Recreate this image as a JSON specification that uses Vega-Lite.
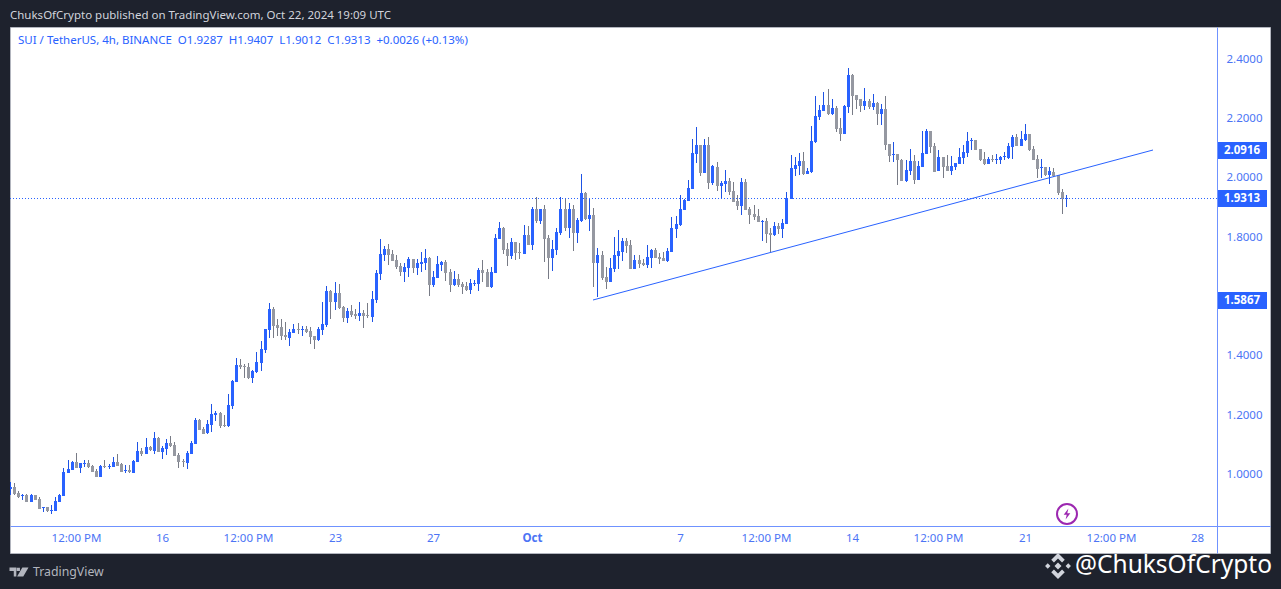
{
  "$schema": "https://vega.github.io/schema/vega-lite/v6.json",
  "width": 1260,
  "height": 526,
  "autosize": "none",
  "padding": {"left": 10, "top": 27, "right": 11, "bottom": 36},
  "background": "#1e222d",
  "view": {"fill": "#ffffff", "stroke": "#b2b5be"},
  "config": {"font": "Noto Sans"},
  "title": {"text": "ChuksOfCrypto published on TradingView.com, Oct 22, 2024 19:09 UTC", "anchor": "start", "frame": "group", "fontSize": 11.5, "fontWeight": "normal", "color": "#d1d4dc", "offset": 6},
  "datasets": {
    "candles": [
{"t":"2024-09-09T20:00Z","o":0.951,"h":0.973,"l":0.930,"c":0.955},
{"t":"2024-09-10T00:00Z","o":0.955,"h":0.969,"l":0.930,"c":0.933},
{"t":"2024-09-10T04:00Z","o":0.935,"h":0.942,"l":0.920,"c":0.924},
{"t":"2024-09-10T08:00Z","o":0.925,"h":0.933,"l":0.913,"c":0.930},
{"t":"2024-09-10T12:00Z","o":0.930,"h":0.932,"l":0.906,"c":0.907},
{"t":"2024-09-10T16:00Z","o":0.907,"h":0.932,"l":0.906,"c":0.930},
{"t":"2024-09-10T20:00Z","o":0.929,"h":0.930,"l":0.912,"c":0.913},
{"t":"2024-09-11T00:00Z","o":0.916,"h":0.923,"l":0.882,"c":0.884},
{"t":"2024-09-11T04:00Z","o":0.886,"h":0.888,"l":0.873,"c":0.888},
{"t":"2024-09-11T08:00Z","o":0.888,"h":0.889,"l":0.873,"c":0.877},
{"t":"2024-09-11T12:00Z","o":0.876,"h":0.895,"l":0.866,"c":0.878},
{"t":"2024-09-11T16:00Z","o":0.877,"h":0.922,"l":0.876,"c":0.909},
{"t":"2024-09-11T20:00Z","o":0.907,"h":0.932,"l":0.906,"c":0.930},
{"t":"2024-09-12T00:00Z","o":0.927,"h":1.020,"l":0.926,"c":1.007},
{"t":"2024-09-12T04:00Z","o":1.005,"h":1.048,"l":1.004,"c":1.017},
{"t":"2024-09-12T08:00Z","o":1.015,"h":1.044,"l":1.014,"c":1.041},
{"t":"2024-09-12T12:00Z","o":1.041,"h":1.070,"l":1.020,"c":1.021},
{"t":"2024-09-12T16:00Z","o":1.022,"h":1.039,"l":1.005,"c":1.038},
{"t":"2024-09-12T20:00Z","o":1.034,"h":1.048,"l":1.023,"c":1.036},
{"t":"2024-09-13T00:00Z","o":1.036,"h":1.048,"l":1.022,"c":1.024},
{"t":"2024-09-13T04:00Z","o":1.027,"h":1.030,"l":1.007,"c":1.008},
{"t":"2024-09-13T08:00Z","o":1.011,"h":1.016,"l":0.990,"c":0.991},
{"t":"2024-09-13T12:00Z","o":0.991,"h":1.031,"l":0.990,"c":1.027},
{"t":"2024-09-13T16:00Z","o":1.027,"h":1.048,"l":1.020,"c":1.025},
{"t":"2024-09-13T20:00Z","o":1.025,"h":1.034,"l":1.018,"c":1.027},
{"t":"2024-09-14T00:00Z","o":1.024,"h":1.057,"l":1.023,"c":1.041},
{"t":"2024-09-14T04:00Z","o":1.041,"h":1.068,"l":1.027,"c":1.027},
{"t":"2024-09-14T08:00Z","o":1.034,"h":1.036,"l":1.007,"c":1.008},
{"t":"2024-09-14T12:00Z","o":1.011,"h":1.031,"l":1.005,"c":1.014},
{"t":"2024-09-14T16:00Z","o":1.014,"h":1.030,"l":1.005,"c":1.007},
{"t":"2024-09-14T20:00Z","o":1.005,"h":1.048,"l":1.004,"c":1.044},
{"t":"2024-09-15T00:00Z","o":1.042,"h":1.108,"l":1.041,"c":1.078},
{"t":"2024-09-15T04:00Z","o":1.078,"h":1.089,"l":1.061,"c":1.068},
{"t":"2024-09-15T08:00Z","o":1.069,"h":1.122,"l":1.068,"c":1.090},
{"t":"2024-09-15T12:00Z","o":1.092,"h":1.096,"l":1.078,"c":1.081},
{"t":"2024-09-15T16:00Z","o":1.079,"h":1.142,"l":1.068,"c":1.122},
{"t":"2024-09-15T20:00Z","o":1.122,"h":1.124,"l":1.075,"c":1.076},
{"t":"2024-09-16T00:00Z","o":1.076,"h":1.095,"l":1.052,"c":1.088},
{"t":"2024-09-16T04:00Z","o":1.085,"h":1.117,"l":1.065,"c":1.105},
{"t":"2024-09-16T08:00Z","o":1.105,"h":1.129,"l":1.093,"c":1.095},
{"t":"2024-09-16T12:00Z","o":1.098,"h":1.109,"l":1.061,"c":1.062},
{"t":"2024-09-16T16:00Z","o":1.066,"h":1.070,"l":1.022,"c":1.041},
{"t":"2024-09-16T20:00Z","o":1.044,"h":1.050,"l":1.023,"c":1.040},
{"t":"2024-09-17T00:00Z","o":1.039,"h":1.078,"l":1.017,"c":1.071},
{"t":"2024-09-17T04:00Z","o":1.068,"h":1.111,"l":1.067,"c":1.105},
{"t":"2024-09-17T08:00Z","o":1.103,"h":1.190,"l":1.102,"c":1.184},
{"t":"2024-09-17T12:00Z","o":1.184,"h":1.186,"l":1.148,"c":1.149},
{"t":"2024-09-17T16:00Z","o":1.151,"h":1.160,"l":1.134,"c":1.135},
{"t":"2024-09-17T20:00Z","o":1.137,"h":1.182,"l":1.135,"c":1.169},
{"t":"2024-09-18T00:00Z","o":1.167,"h":1.236,"l":1.142,"c":1.203},
{"t":"2024-09-18T04:00Z","o":1.200,"h":1.213,"l":1.180,"c":1.207},
{"t":"2024-09-18T08:00Z","o":1.207,"h":1.209,"l":1.157,"c":1.163},
{"t":"2024-09-18T12:00Z","o":1.164,"h":1.200,"l":1.160,"c":1.162},
{"t":"2024-09-18T16:00Z","o":1.162,"h":1.270,"l":1.160,"c":1.233},
{"t":"2024-09-18T20:00Z","o":1.231,"h":1.317,"l":1.221,"c":1.314},
{"t":"2024-09-19T00:00Z","o":1.310,"h":1.391,"l":1.309,"c":1.368},
{"t":"2024-09-19T04:00Z","o":1.368,"h":1.388,"l":1.354,"c":1.361},
{"t":"2024-09-19T08:00Z","o":1.366,"h":1.372,"l":1.324,"c":1.361},
{"t":"2024-09-19T12:00Z","o":1.361,"h":1.375,"l":1.321,"c":1.324},
{"t":"2024-09-19T16:00Z","o":1.324,"h":1.351,"l":1.307,"c":1.348},
{"t":"2024-09-19T20:00Z","o":1.344,"h":1.412,"l":1.341,"c":1.378},
{"t":"2024-09-20T00:00Z","o":1.375,"h":1.449,"l":1.348,"c":1.422},
{"t":"2024-09-20T04:00Z","o":1.418,"h":1.489,"l":1.408,"c":1.489},
{"t":"2024-09-20T08:00Z","o":1.486,"h":1.577,"l":1.459,"c":1.557},
{"t":"2024-09-20T12:00Z","o":1.557,"h":1.563,"l":1.459,"c":1.499},
{"t":"2024-09-20T16:00Z","o":1.503,"h":1.523,"l":1.466,"c":1.493},
{"t":"2024-09-20T20:00Z","o":1.496,"h":1.523,"l":1.452,"c":1.466},
{"t":"2024-09-21T00:00Z","o":1.469,"h":1.513,"l":1.452,"c":1.462},
{"t":"2024-09-21T04:00Z","o":1.459,"h":1.489,"l":1.432,"c":1.479},
{"t":"2024-09-21T08:00Z","o":1.476,"h":1.506,"l":1.476,"c":1.489},
{"t":"2024-09-21T12:00Z","o":1.489,"h":1.509,"l":1.472,"c":1.487},
{"t":"2024-09-21T16:00Z","o":1.487,"h":1.499,"l":1.466,"c":1.489},
{"t":"2024-09-21T20:00Z","o":1.489,"h":1.499,"l":1.476,"c":1.479},
{"t":"2024-09-22T00:00Z","o":1.482,"h":1.496,"l":1.439,"c":1.462},
{"t":"2024-09-22T04:00Z","o":1.466,"h":1.466,"l":1.422,"c":1.452},
{"t":"2024-09-22T08:00Z","o":1.452,"h":1.496,"l":1.449,"c":1.489},
{"t":"2024-09-22T12:00Z","o":1.486,"h":1.580,"l":1.469,"c":1.506},
{"t":"2024-09-22T16:00Z","o":1.503,"h":1.634,"l":1.496,"c":1.617},
{"t":"2024-09-22T20:00Z","o":1.617,"h":1.621,"l":1.523,"c":1.580},
{"t":"2024-09-23T00:00Z","o":1.580,"h":1.648,"l":1.553,"c":1.611},
{"t":"2024-09-23T04:00Z","o":1.611,"h":1.641,"l":1.557,"c":1.560},
{"t":"2024-09-23T08:00Z","o":1.563,"h":1.567,"l":1.513,"c":1.526},
{"t":"2024-09-23T12:00Z","o":1.526,"h":1.560,"l":1.509,"c":1.550},
{"t":"2024-09-23T16:00Z","o":1.550,"h":1.570,"l":1.530,"c":1.536},
{"t":"2024-09-23T20:00Z","o":1.540,"h":1.557,"l":1.523,"c":1.533},
{"t":"2024-09-24T00:00Z","o":1.533,"h":1.580,"l":1.516,"c":1.543},
{"t":"2024-09-24T04:00Z","o":1.543,"h":1.553,"l":1.493,"c":1.533},
{"t":"2024-09-24T08:00Z","o":1.536,"h":1.577,"l":1.526,"c":1.533},
{"t":"2024-09-24T12:00Z","o":1.530,"h":1.617,"l":1.513,"c":1.590},
{"t":"2024-09-24T16:00Z","o":1.587,"h":1.688,"l":1.577,"c":1.678},
{"t":"2024-09-24T20:00Z","o":1.675,"h":1.793,"l":1.654,"c":1.742},
{"t":"2024-09-25T00:00Z","o":1.739,"h":1.769,"l":1.718,"c":1.759},
{"t":"2024-09-25T04:00Z","o":1.759,"h":1.776,"l":1.705,"c":1.739},
{"t":"2024-09-25T08:00Z","o":1.742,"h":1.756,"l":1.718,"c":1.718},
{"t":"2024-09-25T12:00Z","o":1.722,"h":1.739,"l":1.691,"c":1.698},
{"t":"2024-09-25T16:00Z","o":1.702,"h":1.712,"l":1.668,"c":1.681},
{"t":"2024-09-25T20:00Z","o":1.681,"h":1.712,"l":1.648,"c":1.698},
{"t":"2024-09-26T00:00Z","o":1.695,"h":1.732,"l":1.665,"c":1.725},
{"t":"2024-09-26T04:00Z","o":1.725,"h":1.725,"l":1.678,"c":1.695},
{"t":"2024-09-26T08:00Z","o":1.695,"h":1.725,"l":1.671,"c":1.712},
{"t":"2024-09-26T12:00Z","o":1.708,"h":1.749,"l":1.681,"c":1.715},
{"t":"2024-09-26T16:00Z","o":1.712,"h":1.759,"l":1.688,"c":1.729},
{"t":"2024-09-26T20:00Z","o":1.729,"h":1.732,"l":1.600,"c":1.638},
{"t":"2024-09-27T00:00Z","o":1.638,"h":1.685,"l":1.631,"c":1.665},
{"t":"2024-09-27T04:00Z","o":1.661,"h":1.735,"l":1.661,"c":1.708},
{"t":"2024-09-27T08:00Z","o":1.705,"h":1.718,"l":1.685,"c":1.715},
{"t":"2024-09-27T12:00Z","o":1.715,"h":1.722,"l":1.651,"c":1.678},
{"t":"2024-09-27T16:00Z","o":1.681,"h":1.691,"l":1.614,"c":1.638},
{"t":"2024-09-27T20:00Z","o":1.638,"h":1.685,"l":1.634,"c":1.658},
{"t":"2024-09-28T00:00Z","o":1.658,"h":1.675,"l":1.631,"c":1.638},
{"t":"2024-09-28T04:00Z","o":1.641,"h":1.648,"l":1.607,"c":1.632},
{"t":"2024-09-28T08:00Z","o":1.634,"h":1.648,"l":1.617,"c":1.621},
{"t":"2024-09-28T12:00Z","o":1.621,"h":1.658,"l":1.607,"c":1.644},
{"t":"2024-09-28T16:00Z","o":1.641,"h":1.654,"l":1.634,"c":1.644},
{"t":"2024-09-28T20:00Z","o":1.641,"h":1.695,"l":1.617,"c":1.688},
{"t":"2024-09-29T00:00Z","o":1.688,"h":1.722,"l":1.648,"c":1.678},
{"t":"2024-09-29T04:00Z","o":1.681,"h":1.691,"l":1.631,"c":1.631},
{"t":"2024-09-29T08:00Z","o":1.631,"h":1.698,"l":1.627,"c":1.681},
{"t":"2024-09-29T12:00Z","o":1.678,"h":1.809,"l":1.678,"c":1.796},
{"t":"2024-09-29T16:00Z","o":1.793,"h":1.850,"l":1.793,"c":1.830},
{"t":"2024-09-29T20:00Z","o":1.830,"h":1.833,"l":1.742,"c":1.756},
{"t":"2024-09-30T00:00Z","o":1.759,"h":1.779,"l":1.702,"c":1.735},
{"t":"2024-09-30T04:00Z","o":1.735,"h":1.796,"l":1.725,"c":1.783},
{"t":"2024-09-30T08:00Z","o":1.783,"h":1.783,"l":1.722,"c":1.745},
{"t":"2024-09-30T12:00Z","o":1.749,"h":1.779,"l":1.725,"c":1.745},
{"t":"2024-09-30T16:00Z","o":1.742,"h":1.840,"l":1.742,"c":1.806},
{"t":"2024-09-30T20:00Z","o":1.806,"h":1.836,"l":1.772,"c":1.772},
{"t":"2024-10-01T00:00Z","o":1.772,"h":1.901,"l":1.756,"c":1.894},
{"t":"2024-10-01T04:00Z","o":1.894,"h":1.934,"l":1.847,"c":1.853},
{"t":"2024-10-01T08:00Z","o":1.853,"h":1.894,"l":1.843,"c":1.894},
{"t":"2024-10-01T12:00Z","o":1.894,"h":1.907,"l":1.715,"c":1.793},
{"t":"2024-10-01T16:00Z","o":1.796,"h":1.806,"l":1.658,"c":1.729},
{"t":"2024-10-01T20:00Z","o":1.729,"h":1.789,"l":1.685,"c":1.759},
{"t":"2024-10-02T00:00Z","o":1.756,"h":1.830,"l":1.739,"c":1.816},
{"t":"2024-10-02T04:00Z","o":1.813,"h":1.934,"l":1.806,"c":1.894},
{"t":"2024-10-02T08:00Z","o":1.894,"h":1.931,"l":1.820,"c":1.830},
{"t":"2024-10-02T12:00Z","o":1.830,"h":1.914,"l":1.796,"c":1.894},
{"t":"2024-10-02T16:00Z","o":1.894,"h":1.907,"l":1.752,"c":1.813},
{"t":"2024-10-02T20:00Z","o":1.813,"h":1.863,"l":1.779,"c":1.857},
{"t":"2024-10-03T00:00Z","o":1.853,"h":2.012,"l":1.850,"c":1.948},
{"t":"2024-10-03T04:00Z","o":1.948,"h":1.951,"l":1.857,"c":1.860},
{"t":"2024-10-03T08:00Z","o":1.860,"h":1.931,"l":1.820,"c":1.874},
{"t":"2024-10-03T12:00Z","o":1.874,"h":1.897,"l":1.631,"c":1.712},
{"t":"2024-10-03T16:00Z","o":1.712,"h":1.762,"l":1.597,"c":1.739},
{"t":"2024-10-03T20:00Z","o":1.739,"h":1.752,"l":1.654,"c":1.661},
{"t":"2024-10-04T00:00Z","o":1.665,"h":1.698,"l":1.624,"c":1.648},
{"t":"2024-10-04T04:00Z","o":1.648,"h":1.729,"l":1.648,"c":1.695},
{"t":"2024-10-04T08:00Z","o":1.691,"h":1.799,"l":1.681,"c":1.739},
{"t":"2024-10-04T12:00Z","o":1.735,"h":1.823,"l":1.691,"c":1.752},
{"t":"2024-10-04T16:00Z","o":1.749,"h":1.796,"l":1.718,"c":1.786},
{"t":"2024-10-04T20:00Z","o":1.786,"h":1.796,"l":1.745,"c":1.769},
{"t":"2024-10-05T00:00Z","o":1.772,"h":1.789,"l":1.691,"c":1.691},
{"t":"2024-10-05T04:00Z","o":1.691,"h":1.739,"l":1.691,"c":1.722},
{"t":"2024-10-05T08:00Z","o":1.722,"h":1.739,"l":1.695,"c":1.708},
{"t":"2024-10-05T12:00Z","o":1.712,"h":1.725,"l":1.702,"c":1.705},
{"t":"2024-10-05T16:00Z","o":1.705,"h":1.772,"l":1.695,"c":1.732},
{"t":"2024-10-05T20:00Z","o":1.729,"h":1.759,"l":1.695,"c":1.756},
{"t":"2024-10-06T00:00Z","o":1.756,"h":1.762,"l":1.729,"c":1.729},
{"t":"2024-10-06T04:00Z","o":1.732,"h":1.745,"l":1.708,"c":1.725},
{"t":"2024-10-06T08:00Z","o":1.729,"h":1.749,"l":1.718,"c":1.718},
{"t":"2024-10-06T12:00Z","o":1.718,"h":1.762,"l":1.715,"c":1.752},
{"t":"2024-10-06T16:00Z","o":1.749,"h":1.867,"l":1.749,"c":1.830},
{"t":"2024-10-06T20:00Z","o":1.826,"h":1.870,"l":1.796,"c":1.843},
{"t":"2024-10-07T00:00Z","o":1.840,"h":1.941,"l":1.836,"c":1.894},
{"t":"2024-10-07T04:00Z","o":1.890,"h":1.928,"l":1.890,"c":1.924},
{"t":"2024-10-07T08:00Z","o":1.921,"h":1.992,"l":1.921,"c":1.965},
{"t":"2024-10-07T12:00Z","o":1.961,"h":2.130,"l":1.960,"c":2.083},
{"t":"2024-10-07T16:00Z","o":2.079,"h":2.170,"l":2.049,"c":2.110},
{"t":"2024-10-07T20:00Z","o":2.110,"h":2.110,"l":2.005,"c":2.015},
{"t":"2024-10-08T00:00Z","o":2.015,"h":2.130,"l":2.015,"c":2.110},
{"t":"2024-10-08T04:00Z","o":2.110,"h":2.137,"l":1.961,"c":1.982},
{"t":"2024-10-08T08:00Z","o":1.982,"h":2.042,"l":1.975,"c":2.039},
{"t":"2024-10-08T12:00Z","o":2.036,"h":2.052,"l":1.955,"c":1.971},
{"t":"2024-10-08T16:00Z","o":1.971,"h":1.988,"l":1.928,"c":1.982},
{"t":"2024-10-08T20:00Z","o":1.978,"h":2.025,"l":1.951,"c":1.988},
{"t":"2024-10-09T00:00Z","o":1.988,"h":1.998,"l":1.941,"c":1.951},
{"t":"2024-10-09T04:00Z","o":1.955,"h":1.985,"l":1.917,"c":1.917},
{"t":"2024-10-09T08:00Z","o":1.921,"h":1.941,"l":1.890,"c":1.904},
{"t":"2024-10-09T12:00Z","o":1.904,"h":1.998,"l":1.874,"c":1.985},
{"t":"2024-10-09T16:00Z","o":1.985,"h":1.995,"l":1.890,"c":1.890},
{"t":"2024-10-09T20:00Z","o":1.894,"h":1.900,"l":1.843,"c":1.874},
{"t":"2024-10-10T00:00Z","o":1.877,"h":1.907,"l":1.857,"c":1.867},
{"t":"2024-10-10T04:00Z","o":1.870,"h":1.894,"l":1.850,"c":1.850},
{"t":"2024-10-10T08:00Z","o":1.851,"h":1.857,"l":1.786,"c":1.855},
{"t":"2024-10-10T12:00Z","o":1.853,"h":1.864,"l":1.779,"c":1.810},
{"t":"2024-10-10T16:00Z","o":1.813,"h":1.830,"l":1.749,"c":1.806},
{"t":"2024-10-10T20:00Z","o":1.806,"h":1.850,"l":1.803,"c":1.837},
{"t":"2024-10-11T00:00Z","o":1.837,"h":1.847,"l":1.810,"c":1.826},
{"t":"2024-10-11T04:00Z","o":1.826,"h":1.860,"l":1.796,"c":1.847},
{"t":"2024-10-11T08:00Z","o":1.843,"h":1.951,"l":1.843,"c":1.931},
{"t":"2024-10-11T12:00Z","o":1.928,"h":2.076,"l":1.928,"c":2.032},
{"t":"2024-10-11T16:00Z","o":2.029,"h":2.069,"l":2.005,"c":2.042},
{"t":"2024-10-11T20:00Z","o":2.039,"h":2.083,"l":2.008,"c":2.056},
{"t":"2024-10-12T00:00Z","o":2.056,"h":2.086,"l":2.008,"c":2.012},
{"t":"2024-10-12T04:00Z","o":2.012,"h":2.032,"l":2.012,"c":2.022},
{"t":"2024-10-12T08:00Z","o":2.019,"h":2.174,"l":2.015,"c":2.123},
{"t":"2024-10-12T12:00Z","o":2.120,"h":2.275,"l":2.116,"c":2.207},
{"t":"2024-10-12T16:00Z","o":2.204,"h":2.245,"l":2.194,"c":2.228},
{"t":"2024-10-12T20:00Z","o":2.224,"h":2.288,"l":2.224,"c":2.245},
{"t":"2024-10-13T00:00Z","o":2.245,"h":2.298,"l":2.211,"c":2.214},
{"t":"2024-10-13T04:00Z","o":2.214,"h":2.265,"l":2.211,"c":2.234},
{"t":"2024-10-13T08:00Z","o":2.234,"h":2.241,"l":2.153,"c":2.164},
{"t":"2024-10-13T12:00Z","o":2.167,"h":2.201,"l":2.123,"c":2.147},
{"t":"2024-10-13T16:00Z","o":2.147,"h":2.245,"l":2.147,"c":2.241},
{"t":"2024-10-13T20:00Z","o":2.238,"h":2.369,"l":2.218,"c":2.346},
{"t":"2024-10-14T00:00Z","o":2.346,"h":2.349,"l":2.211,"c":2.275},
{"t":"2024-10-14T04:00Z","o":2.278,"h":2.278,"l":2.231,"c":2.261},
{"t":"2024-10-14T08:00Z","o":2.265,"h":2.265,"l":2.221,"c":2.241},
{"t":"2024-10-14T12:00Z","o":2.241,"h":2.302,"l":2.228,"c":2.258},
{"t":"2024-10-14T16:00Z","o":2.258,"h":2.265,"l":2.231,"c":2.238},
{"t":"2024-10-14T20:00Z","o":2.238,"h":2.281,"l":2.228,"c":2.251},
{"t":"2024-10-15T00:00Z","o":2.251,"h":2.255,"l":2.177,"c":2.214},
{"t":"2024-10-15T04:00Z","o":2.214,"h":2.248,"l":2.177,"c":2.231},
{"t":"2024-10-15T08:00Z","o":2.231,"h":2.275,"l":2.093,"c":2.110},
{"t":"2024-10-15T12:00Z","o":2.113,"h":2.113,"l":2.052,"c":2.073},
{"t":"2024-10-15T16:00Z","o":2.076,"h":2.120,"l":2.052,"c":2.079},
{"t":"2024-10-15T20:00Z","o":2.079,"h":2.079,"l":1.975,"c":2.059},
{"t":"2024-10-16T00:00Z","o":2.059,"h":2.062,"l":1.988,"c":1.988},
{"t":"2024-10-16T04:00Z","o":1.988,"h":2.059,"l":1.985,"c":2.025},
{"t":"2024-10-16T08:00Z","o":2.022,"h":2.096,"l":2.008,"c":2.056},
{"t":"2024-10-16T12:00Z","o":2.056,"h":2.076,"l":1.978,"c":1.992},
{"t":"2024-10-16T16:00Z","o":1.992,"h":2.056,"l":1.992,"c":2.039},
{"t":"2024-10-16T20:00Z","o":2.035,"h":2.157,"l":2.035,"c":2.083},
{"t":"2024-10-17T00:00Z","o":2.079,"h":2.164,"l":2.079,"c":2.157},
{"t":"2024-10-17T04:00Z","o":2.157,"h":2.157,"l":2.083,"c":2.103},
{"t":"2024-10-17T08:00Z","o":2.106,"h":2.116,"l":2.018,"c":2.018},
{"t":"2024-10-17T12:00Z","o":2.022,"h":2.093,"l":2.022,"c":2.069},
{"t":"2024-10-17T16:00Z","o":2.069,"h":2.069,"l":1.998,"c":2.035},
{"t":"2024-10-17T20:00Z","o":2.039,"h":2.076,"l":2.022,"c":2.022},
{"t":"2024-10-18T00:00Z","o":2.022,"h":2.072,"l":2.008,"c":2.039},
{"t":"2024-10-18T04:00Z","o":2.035,"h":2.049,"l":2.025,"c":2.049},
{"t":"2024-10-18T08:00Z","o":2.045,"h":2.099,"l":2.045,"c":2.069},
{"t":"2024-10-18T12:00Z","o":2.066,"h":2.110,"l":2.045,"c":2.086},
{"t":"2024-10-18T16:00Z","o":2.083,"h":2.153,"l":2.069,"c":2.123},
{"t":"2024-10-18T20:00Z","o":2.123,"h":2.133,"l":2.093,"c":2.127},
{"t":"2024-10-19T00:00Z","o":2.127,"h":2.127,"l":2.093,"c":2.093},
{"t":"2024-10-19T04:00Z","o":2.096,"h":2.096,"l":2.056,"c":2.059},
{"t":"2024-10-19T08:00Z","o":2.062,"h":2.086,"l":2.042,"c":2.045},
{"t":"2024-10-19T12:00Z","o":2.045,"h":2.069,"l":2.045,"c":2.062},
{"t":"2024-10-19T16:00Z","o":2.062,"h":2.076,"l":2.052,"c":2.059},
{"t":"2024-10-19T20:00Z","o":2.059,"h":2.079,"l":2.045,"c":2.062},
{"t":"2024-10-20T00:00Z","o":2.059,"h":2.072,"l":2.045,"c":2.069},
{"t":"2024-10-20T04:00Z","o":2.069,"h":2.086,"l":2.059,"c":2.072},
{"t":"2024-10-20T08:00Z","o":2.066,"h":2.116,"l":2.062,"c":2.106},
{"t":"2024-10-20T12:00Z","o":2.103,"h":2.143,"l":2.062,"c":2.136},
{"t":"2024-10-20T16:00Z","o":2.136,"h":2.147,"l":2.106,"c":2.106},
{"t":"2024-10-20T20:00Z","o":2.106,"h":2.157,"l":2.106,"c":2.130},
{"t":"2024-10-21T00:00Z","o":2.127,"h":2.180,"l":2.123,"c":2.147},
{"t":"2024-10-21T04:00Z","o":2.147,"h":2.147,"l":2.089,"c":2.093},
{"t":"2024-10-21T08:00Z","o":2.096,"h":2.106,"l":2.059,"c":2.059},
{"t":"2024-10-21T12:00Z","o":2.062,"h":2.076,"l":1.998,"c":2.029},
{"t":"2024-10-21T16:00Z","o":2.031,"h":2.062,"l":1.998,"c":2.035},
{"t":"2024-10-21T20:00Z","o":2.035,"h":2.035,"l":2.005,"c":2.008},
{"t":"2024-10-22T00:00Z","o":2.008,"h":2.035,"l":1.978,"c":2.022},
{"t":"2024-10-22T04:00Z","o":2.018,"h":2.032,"l":2.002,"c":2.005},
{"t":"2024-10-22T08:00Z","o":2.008,"h":2.008,"l":1.941,"c":1.948},
{"t":"2024-10-22T12:00Z","o":1.951,"h":1.961,"l":1.877,"c":1.9287},
{"t":"2024-10-22T16:00Z","o":1.9287,"h":1.9407,"l":1.9012,"c":1.9313}
    ],
    "tags": [
      {"p": 2.0916, "label": "2.0916", "t": "2024-10-28T20:12Z", "t2": "2024-10-30T19:36Z", "tm": "2024-10-29T19:54Z"},
      {"p": 1.9313, "label": "1.9313", "t": "2024-10-28T20:12Z", "t2": "2024-10-30T19:36Z", "tm": "2024-10-29T19:54Z"},
      {"p": 1.5867, "label": "1.5867", "t": "2024-10-28T20:12Z", "t2": "2024-10-30T19:36Z", "tm": "2024-10-29T19:54Z"}
    ]
  },
  "encoding": {
    "x": {
      "field": "t",
      "type": "temporal",
      "title": null,
      "scale": {"type": "utc", "padding": 0, "domain": [
        {"year": 2024, "month": 9, "date": 9, "hours": 20, "utc": true},
        {"year": 2024, "month": 10, "date": 30, "hours": 22, "minutes": 51, "utc": true}
      ], "round": true},
      "axis": {
        "orient": "bottom",
        "offset": -27,
        "grid": false,
        "ticks": false,
        "domainColor": "#6f92ff",
        "labelColor": "#4c74f5",
        "labelFontSize": 11.5,
        "labelPadding": 6,
        "labelOverlap": false,
        "labelFlush": false,
        "labelFontWeight": {"condition": {"test": "utcdate(datum.value) == 1", "value": "bold"}, "value": "normal"},
        "values": [
          {"year": 2024, "month": 9, "date": 12, "hours": 12, "utc": true},
          {"year": 2024, "month": 9, "date": 16, "utc": true},
          {"year": 2024, "month": 9, "date": 19, "hours": 12, "utc": true},
          {"year": 2024, "month": 9, "date": 23, "utc": true},
          {"year": 2024, "month": 9, "date": 27, "utc": true},
          {"year": 2024, "month": 10, "date": 1, "utc": true},
          {"year": 2024, "month": 10, "date": 7, "utc": true},
          {"year": 2024, "month": 10, "date": 10, "hours": 12, "utc": true},
          {"year": 2024, "month": 10, "date": 14, "utc": true},
          {"year": 2024, "month": 10, "date": 17, "hours": 12, "utc": true},
          {"year": 2024, "month": 10, "date": 21, "utc": true},
          {"year": 2024, "month": 10, "date": 24, "hours": 12, "utc": true},
          {"year": 2024, "month": 10, "date": 28, "utc": true}
        ],
        "labelExpr": "utchours(datum.value) == 12 ? '12:00 PM' : utcdate(datum.value) == 1 ? 'Oct' : '' + utcdate(datum.value)"
      }
    },
    "y": {
      "field": "p",
      "type": "quantitative",
      "title": null,
      "scale": {"domain": [0.734, 2.5074], "nice": false, "zero": false, "padding": 0, "round": true},
      "axis": {
        "orient": "right",
        "offset": -53,
        "grid": false,
        "ticks": false,
        "domainColor": "#6f92ff",
        "labelColor": "#4c74f5",
        "labelFontSize": 11.5,
        "labelPadding": 9,
        "labelOverlap": false,
        "labelFlush": false,
        "format": ".4f",
        "values": [1, 1.2, 1.4, 1.8, 2, 2.2, 2.4]
      }
    }
  },
  "layer": [
    {
      "data": {"name": "candles"},
      "mark": {"type": "rule", "strokeWidth": 1, "xOffset": 0.5, "clip": true},
      "encoding": {
        "y": {"field": "h", "type": "quantitative", "title": null},
        "y2": {"field": "l"},
        "color": {"condition": {"test": "datum.c >= datum.o", "value": "#1e53e5"}, "value": "#787b86"}
      }
    },
    {
      "data": {"name": "candles"},
      "mark": {"type": "bar", "width": 3, "xOffset": 0.5, "clip": true},
      "encoding": {
        "y": {"field": "o", "type": "quantitative", "title": null},
        "y2": {"field": "c"},
        "color": {"condition": {"test": "datum.c >= datum.o", "value": "#2962ff"}, "value": "#9598a1"}
      }
    },
    {
      "data": {"values": [{"t": "2024-09-09T20:00Z", "t2": "2024-10-28T20:12Z", "p": 1.9313}]},
      "mark": {"type": "rule", "color": "#2962ff", "strokeWidth": 1, "strokeDash": [1, 2], "yOffset": 0.5},
      "encoding": {"x2": {"field": "t2"}}
    },
    {
      "data": {"values": [{"t": "2024-10-03T11:36Z", "p": 1.5867}, {"t": "2024-10-26T04:38Z", "p": 2.0916}]},
      "mark": {"type": "line", "color": "#2962ff", "strokeWidth": 1}
    },
    {
      "data": {"name": "tags"},
      "mark": {"type": "rule", "strokeWidth": 17, "color": "#2962ff", "yOffset": 0.5},
      "encoding": {"x2": {"field": "t2"}}
    },
    {
      "data": {"name": "tags"},
      "mark": {"type": "text", "color": "#ffffff", "fontSize": 11.5, "fontWeight": "bold", "align": "center", "baseline": "middle", "yOffset": 0.5},
      "encoding": {"x": {"field": "tm", "type": "temporal"}, "text": {"field": "label"}}
    },
    {
      "data": {"values": [{"t": "2024-09-10T03:48Z", "p": 2.4587, "label": "SUI / TetherUS, 4h, BINANCE\u00a0\u00a0O1.9287\u00a0\u00a0H1.9407\u00a0\u00a0L1.9012\u00a0\u00a0C1.9313\u00a0\u00a0+0.0026 (+0.13%)"}]},
      "mark": {"type": "text", "color": "#2962ff", "fontSize": 11.5, "align": "left", "baseline": "middle"},
      "encoding": {"text": {"field": "label"}}
    },
    {
      "data": {"values": [{"t": "2024-09-10T18:24Z", "p": 0.6684, "label": "TradingView"}]},
      "mark": {"type": "text", "color": "#b2b5be", "fontSize": 12.3, "align": "left", "baseline": "middle"},
      "encoding": {"text": {"field": "label"}}
    },
    {
      "data": {"values": [{"t": "2024-10-23T01:00Z", "p": 0.69, "label": "@ChuksOfCrypto"}]},
      "mark": {"type": "text", "color": "#ffffff", "fontSize": 24.5, "align": "left", "baseline": "middle"},
      "encoding": {"text": {"field": "label"}}
    },
    {
      "data": {"values": [{"t": "2024-09-10T05:15Z", "p": 0.6716}]},
      "mark": {"type": "point", "filled": true, "opacity": 1, "color": "#b2b5be", "size": 361, "shape": "M-1 -.47H-.28V.47H-.55V-.1H-1ZM-.24 -.45H.1V-.11H-.24ZM.35 -.47H1L.45 .47H-.2Z"}
    },
    {
      "data": {"values": [{"t": "2024-10-22T08:24Z", "p": 0.69}]},
      "mark": {"type": "point", "filled": true, "opacity": 1, "color": "#d1d4dc", "size": 729, "shape": "M0 -.26L.26 0L0 .26L-.26 0ZM-.76 -.2L-.56 0L-.76 .2L-.96 0ZM.76 -.2L.96 0L.76 .2L.56 0ZM0 -.96L.5 -.46L.3 -.26L0 -.56L-.3 -.26L-.5 -.46ZM0 .96L.5 .46L.3 .26L0 .56L-.3 .26L-.5 .46Z"}
    },
    {
      "data": {"values": [{"t": "2024-10-22T17:12Z", "p": 0.8671}]},
      "mark": {"type": "point", "shape": "circle", "filled": false, "opacity": 1, "color": "#9c27b0", "strokeWidth": 2, "size": 400}
    },
    {
      "data": {"values": [{"t": "2024-10-22T17:12Z", "p": 0.8671}]},
      "mark": {"type": "point", "filled": true, "opacity": 1, "color": "#9c27b0", "size": 121, "shape": "M.25 -1L-.6 .15H-.05L-.25 1L.6 -.15H.05Z"}
    }
  ]
}
